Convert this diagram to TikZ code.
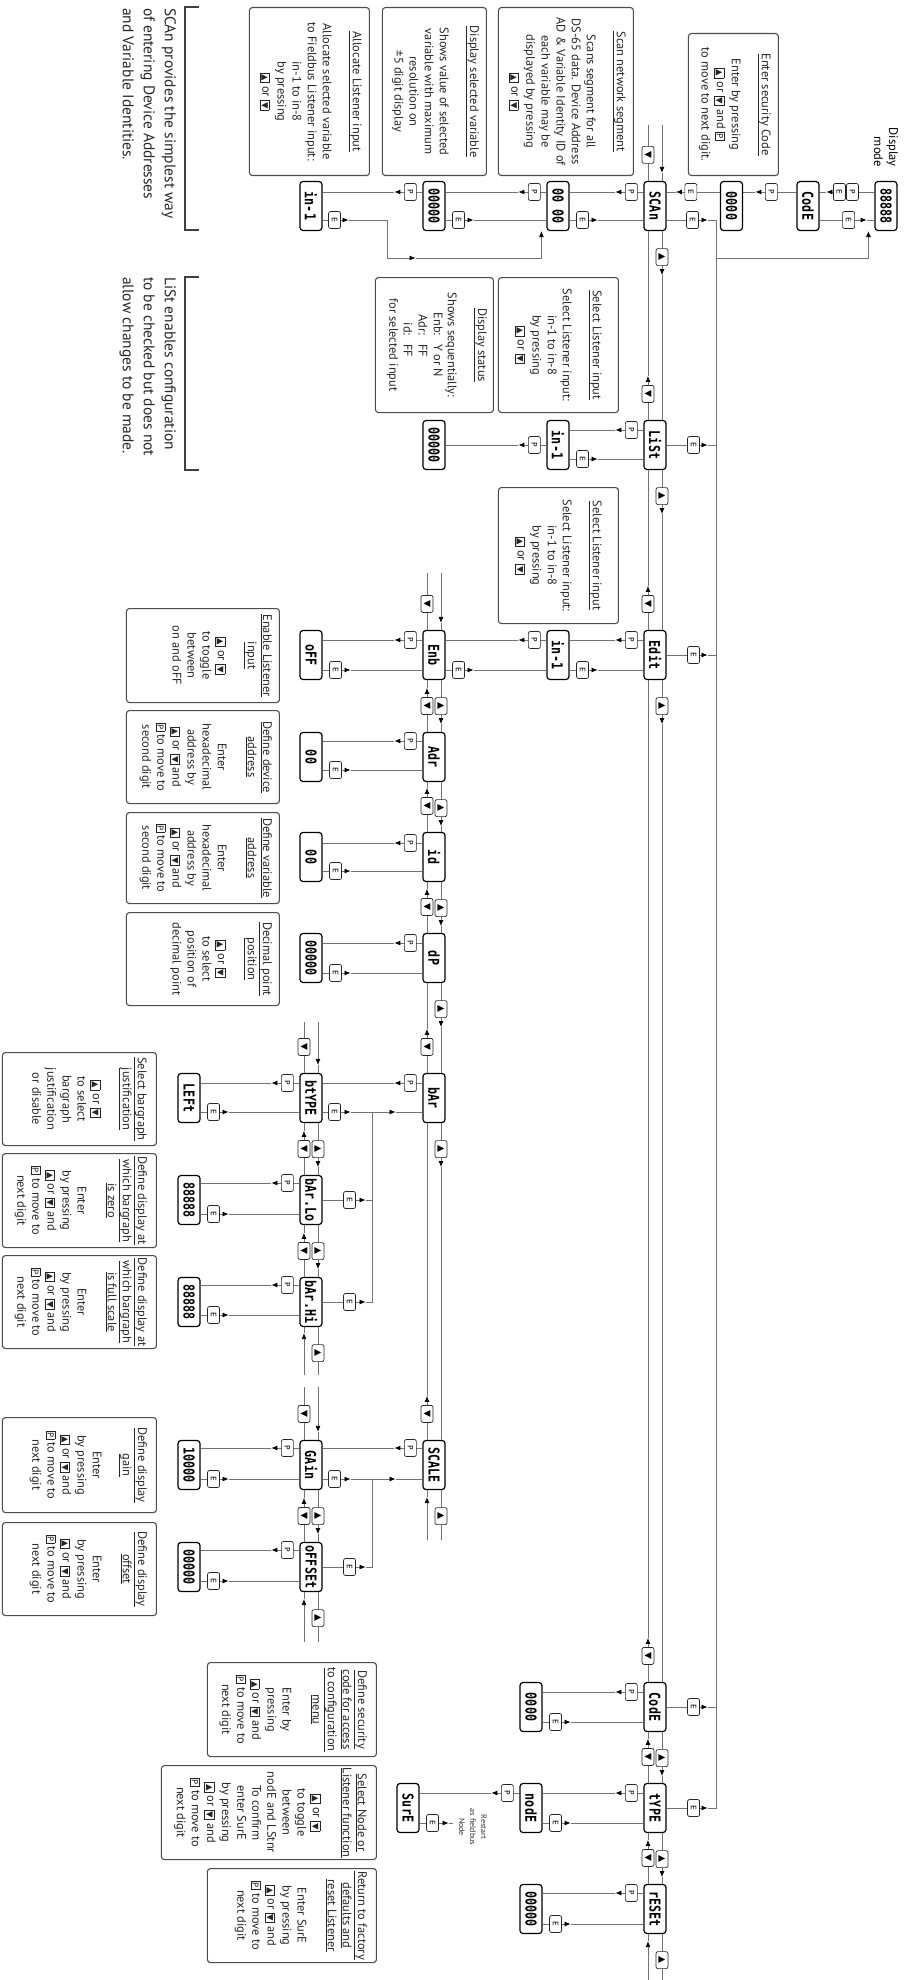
\documentclass[tikz,border=0pt]{standalone}
\usepackage{fontspec}
\setmainfont{PT Sans}
\newfontfamily\dispfont{DejaVu Sans Mono}[FakeStretch=0.78]
\newfontfamily\symfont{DejaVu Sans}
\usetikzlibrary{arrows.meta,calc}

\tikzset{
  dispbox/.style={draw, line width=1.2pt, rounded corners=3pt, fill=white,
                  minimum width=49pt, minimum height=22pt, inner sep=0pt,
                  font=\dispfont\bfseries\fontsize{15}{15}\selectfont},
  keybox/.style={draw=black!85, line width=0.7pt, rounded corners=2pt, fill=white,
                 minimum width=17pt, minimum height=12pt, inner sep=0pt,
                 font=\symfont\fontsize{7.5}{7.5}\selectfont},
  wireline/.style={draw=black!55, line width=0.8pt},
  arrowtip/.style={-{Latex[length=6pt,width=5pt,color=black]}},
  descframe/.style={draw=black!70, line width=1.1pt, rounded corners=3pt, fill=white},
  desctext/.style={align=center, inner sep=0pt, text=black!85,
                   font=\fontsize{12.4}{15.1}\selectfont},
  bracket/.style={line width=1.5pt, black!75},
  bigtext/.style={align=left, inner sep=0pt, text=black!85,
                  font=\fontsize{15.5}{21}\selectfont},
}

% keys inside the texts
\newcommand\tk[1]{{\fboxsep=1.3pt\fboxrule=0.5pt\fbox{\symfont\fontsize{8.5}{8.5}\selectfont #1}}}
\newcommand\tku{\tk{▲}}
\newcommand\tkd{\tk{▼}}
\newcommand\tkp{\tk{P}}
\newcommand\navup{{\fontsize{9}{9}\selectfont ▲}}
\newcommand\navdn{{\fontsize{9}{9}\selectfont ▼}}

% line with key and arrow: from, to, key, key distance, arrow distance
\newcommand\wire[5]{%
  \path (#1) coordinate (wa) (#2) coordinate (wb);
  \draw[wireline] ($(wa)!#5!(wb)$) -- (wb);
  \draw[wireline,arrowtip] (wa) -- ($(wa)!#5!(wb)$);
  \node[keybox] at ($(wa)!#4!(wb)$) {#3};
}
\newcommand\keyline[4]{%
  \path (#1) coordinate (wa) (#2) coordinate (wb);
  \draw[wireline] (wa) -- (wb);
  \node[keybox] at ($(wa)!#4!(wb)$) {#3};
}
\newcommand\arrline[3]{%
  \path (#1) coordinate (wa) (#2) coordinate (wb);
  \draw[wireline,arrowtip] (wa) -- ($(wa)!#3!(wb)$);
  \draw[wireline] ($(wa)!#3!(wb)$) -- (wb);
}
\newcommand\pdown[3][-14]{\wire{$(#2.south)+(#1,0)$}{$(#3.north)+(#1,0)$}{P}{12pt}{28pt}}
\newcommand\eup[3][14]{\wire{$(#2.north)+(#1,0)$}{$(#3.south)+(#1,0)$}{E}{13pt}{28pt}}
\newcommand\navpair[2]{%
  \wire{$(#1.east)+(0,-7)$}{$(#2.west)+(0,-7)$}{\navup}{26pt}{44pt}
  \wire{$(#2.west)+(0,7)$}{$(#1.east)+(0,7)$}{\navdn}{26pt}{44pt}
}
% first, last, left length, left arrow, right length, right arrow
\newcommand\navends[6]{%
  \arrline{$(#1.west)+(-#3,-7)$}{$(#1.west)+(0,-7)$}{#4pt}
  \keyline{$(#1.west)+(0,7)$}{$(#1.west)+(-#3,7)$}{\navdn}{26pt}
  \keyline{$(#2.east)+(0,-7)$}{$(#2.east)+(#5,-7)$}{\navup}{26pt}
  \arrline{$(#2.east)+(#5,7)$}{$(#2.east)+(0,7)$}{#6pt}
}
% [top pad] name, x, y, width, height, text
\newcommand\descbox[7][8]{%
  \node[descframe, minimum width=#5pt, minimum height=#6pt, anchor=north west] (#2) at (#3,#4) {};
  \node[desctext, anchor=north] (#2t) at ($(#2.north)+(0,#1)$) {#7};
}

\begin{document}
\begin{tikzpicture}
\begin{scope}[rotate=-90, transform shape, x=1pt, y=-1pt]
  \useasboundingbox (0,0) rectangle (1980,909);

  % Display mode and security code
  \node[dispbox] (disp) at (206,23) {88888};
  \node[font=\fontsize{12.5}{15}\selectfont, align=right, anchor=east, inner sep=0pt]
    (dmode) at (167,23) {Display\\mode};
  \node[dispbox] (code1) at (206,101) {CodE};
  \node[dispbox] (code1v) at (206,177.5) {0000};

  % Main menu
  \node[dispbox] (scan) at (206,254) {SCAn};
  \node[dispbox] (list) at (445,254) {LiSt};
  \node[dispbox] (edit) at (655,254) {Edit};
  \node[dispbox] (code2) at (1707,254) {CodE};
  \node[dispbox] (type) at (1808,254) {tYPE};
  \node[dispbox] (reset) at (1909,254) {rESEt};

  % Sub menus
  \node[dispbox] (scanv) at (206,351) {00 00};
  \node[dispbox] (listin) at (445,351) {in-1};
  \node[dispbox] (editin) at (655,351) {in-1};
  \node[dispbox] (scanval) at (206,475) {00000};
  \node[dispbox] (liststat) at (445,475) {00000};
  \node[dispbox] (enb) at (655,475) {Enb};
  \node[dispbox] (adr) at (757,475) {Adr};
  \node[dispbox] (idn) at (857,475) {id};
  \node[dispbox] (dp) at (958,475) {dP};
  \node[dispbox] (bar) at (1098,475) {bAr};
  \node[dispbox] (scale) at (1465,475) {SCALE};
  \node[dispbox] (scanin) at (206,598) {in-1};
  \node[dispbox] (off) at (655,598) {oFF};
  \node[dispbox] (adrv) at (757,598) {00};
  \node[dispbox] (idv) at (857,598) {00};
  \node[dispbox] (dpv) at (958,598) {00000};
  \node[dispbox] (btype) at (1098,598) {btYPE};
  \node[dispbox] (barlo) at (1200,598) {bAr.Lo};
  \node[dispbox] (barhi) at (1302,598) {bAr.Hi};
  \node[dispbox] (gain) at (1465,598) {GAin};
  \node[dispbox] (offset) at (1567,598) {oFFSEt};
  \node[dispbox] (lft) at (1098,720) {LEFt};
  \node[dispbox] (lov) at (1200,720) {88888};
  \node[dispbox] (hiv) at (1302,720) {88888};
  \node[dispbox] (gainv) at (1465,720) {10000};
  \node[dispbox] (offv) at (1567,720) {00000};
  \node[dispbox] (code2v) at (1707,378) {0000};
  \node[dispbox] (nodesel) at (1808,378) {nodE};
  \node[dispbox] (resetv) at (1909,378) {00000};
  \node[dispbox] (sure) at (1808,501) {SurE};
  \node[font=\fontsize{8}{11}\selectfont, align=center, inner sep=0pt, text=black!80]
    (restart) at (1827,436) {Restart\\as fieldbus\\Node};

  % Top links
  \wire{$(disp.south)+(-14,0)$}{$(code1.north)+(-14,0)$}{P}{22pt}{48pt}
  \node[keybox] (pekey) at ($(disp.south)+(-14,35)$) {E};
  \wire{$(code1.north)+(14,0)$}{$(disp.south)+(14,0)$}{E}{29pt}{47pt}
  \wire{$(code1.south)+(-14,0)$}{$(code1v.north)+(-14,0)$}{P}{25pt}{41pt}
  \wire{$(code1v.south)+(-14,0)$}{$(scan.north)+(-14,0)$}{E}{29pt}{44pt}

  % Return bus
  \coordinate (busL) at ($(scan.north)+(14,-50)$);
  \coordinate (busR) at ($(type.north)+(0,-50)$);
  \coordinate (busJ) at ($(busL)+(38,0)$);
  \draw[wireline] (busL) -- (busR);
  \draw[wireline,arrowtip] (busJ) |- ($(disp.south east)+(0,6)$);
  \wire{$(scan.north)+(14,0)$}{busL}{E}{26pt}{41pt}
  \wire{list.north}{$(list.north)+(0,-50)$}{E}{27pt}{41pt}
  \wire{edit.north}{$(edit.north)+(0,-50)$}{E}{27pt}{41pt}
  \wire{code2.north}{$(code2.north)+(0,-50)$}{E}{27pt}{41pt}
  \wire{type.north}{busR}{E}{27pt}{41pt}

  % Navigation
  \navpair{scan}{list}
  \navpair{list}{edit}
  \navpair{edit}{code2}
  \navpair{code2}{type}
  \navpair{type}{reset}
  \navends{scan}{reset}{56}{48}{46}{39}
  \navpair{enb}{adr}
  \navpair{adr}{idn}
  \navpair{idn}{dp}
  \navpair{dp}{bar}
  \navpair{bar}{scale}
  \navends{enb}{scale}{57}{50}{50}{43}
  \navpair{btype}{barlo}
  \navpair{barlo}{barhi}
  \navends{btype}{barhi}{51}{43}{48}{42}
  \navpair{gain}{offset}
  \navends{gain}{offset}{53}{45}{50}{43}

  % SCAn
  \pdown{scan}{scanv}
  \eup{scanv}{scan}
  \pdown{scanv}{scanval}
  \eup{scanval}{scanv}
  \pdown{scanval}{scanin}
  \coordinate (retA) at ($(scanin.north)+(14,-65)$);
  \coordinate (retB) at ($(retA)+(38,-28)$);
  \wire{$(scanin.north)+(14,0)$}{retA}{E}{12pt}{26pt}
  \draw[wireline,arrowtip] (retA) -| (retB);
  \draw[wireline,arrowtip] (retB) |- ($(scanv.south east)+(0,5)$);

  % LiSt
  \pdown[-15]{list}{listin}
  \eup{listin}{list}
  \pdown[0]{listin}{liststat}

  % Edit
  \pdown[-15]{edit}{editin}
  \eup[15]{editin}{edit}
  \pdown[-15]{editin}{enb}
  \eup[15]{enb}{editin}
  \pdown[-15]{enb}{off}
  \eup[15]{off}{enb}
  \pdown[-16]{adr}{adrv}
  \eup[13]{adrv}{adr}
  \pdown{idn}{idv}
  \eup{idv}{idn}
  \pdown[-15]{dp}{dpv}
  \eup[15]{dpv}{dp}

  % bAr
  \pdown[-15]{bar}{btype}
  \coordinate (colA) at ($(btype.north)+(14,-50)$);
  \wire{$(btype.north)+(14,0)$}{colA}{E}{12pt}{28pt}
  \arrline{colA}{$(bar.south)+(14,0)$}{23pt}
  \draw[wireline] (colA) -- ($(barhi.north)+(0,-50)$);
  \wire{barlo.north}{$(barlo.north)+(0,-50)$}{E}{27pt}{43pt}
  \wire{barhi.north}{$(barhi.north)+(0,-50)$}{E}{27pt}{43pt}
  \pdown[-15]{btype}{lft}
  \eup{lft}{btype}
  \pdown[-17]{barlo}{lov}
  \eup{lov}{barlo}
  \pdown[-17]{barhi}{hiv}
  \eup[13]{hiv}{barhi}

  % SCALE
  \pdown[-17]{scale}{gain}
  \coordinate (colB) at ($(gain.north)+(14,-50)$);
  \wire{$(gain.north)+(14,0)$}{colB}{E}{12pt}{28pt}
  \arrline{colB}{$(scale.south)+(14,0)$}{23pt}
  \draw[wireline] (colB) -- ($(offset.north)+(0,-50)$);
  \wire{offset.north}{$(offset.north)+(0,-50)$}{E}{27pt}{43pt}
  \pdown[-17]{gain}{gainv}
  \eup{gainv}{gain}
  \pdown[-17]{offset}{offv}
  \eup{offv}{offset}

  % CodE, tYPE, rESEt
  \pdown[-15]{code2}{code2v}
  \eup[15]{code2v}{code2}
  \pdown[-15]{type}{nodesel}
  \eup[15]{nodesel}{type}
  \pdown[-15]{nodesel}{sure}
  \wire{$(sure.north)+(15,0)$}{$(sure.north)+(15,-33)$}{E}{13pt}{29pt}
  \pdown[-16]{reset}{resetv}
  \eup[15]{resetv}{reset}

  % Description boxes
  \descbox{secbox}{33}{130}{142}{90}{\underline{Enter security Code}\\[15pt]Enter by pressing\\\tku{} or \tkd{} and \tkp\\to move to next digit.}
  \descbox{scanbox}{7}{275}{168}{135}{\underline{Scan network segment}\\[15pt]Scans segment for all\\DS-65 data. Device Address\\AD \& Variable Identity ID of\\each variable may be\\displayed by pressing\\\tku{} or \tkd}
  \descbox{selvar}{7}{422}{168}{104}{\underline{Display selected variable}\\[15pt]Shows value of selected\\variable with maximum\\resolution on\\±5 digit display}
  \descbox{allocbox}{7}{539}{168}{120}{\underline{Allocate Listener input}\\[15pt]Allocate selected variable\\to Fieldbus Listener input:\\in-1 to in-8\\by pressing\\\tku{} or \tkd}
  \descbox[17]{listsel}{277}{290}{135}{120}{\underline{Select Listener input}\\[15pt]Select Listener input:\\in-1 to in-8\\by pressing\\\tku{} or \tkd}
  \descbox[7]{statbox}{277}{415}{135}{118}{\underline{Display status}\\[15pt]Shows sequentially:\\\begin{tabular}{@{}r@{\hspace{9pt}}l@{}}Enb: & Y or N\\Adr: & FF\\id: & FF\end{tabular}\\for selected input}
  \descbox[17]{editsel}{487}{290}{136}{120}{\underline{Select Listener input}\\[15pt]Select Listener input:\\in-1 to in-8\\by pressing\\\tku{} or \tkd}
  \descbox{enbbox}{608}{629}{94}{153}{\underline{Enable Listener}\\\underline{input}\\[15pt]\tku{} or \tkd\\to toggle\\between\\on and oFF}
  \descbox{adrbox}{710}{629}{93}{153}{\underline{Define device}\\\underline{address}\\[15pt]Enter\\hexadecimal\\address by\\\tku{} or \tkd{} and\\\tkp{} to move to\\second digit}
  \descbox{idbox}{812}{629}{91}{153}{\underline{Define variable}\\\underline{address}\\[15pt]Enter\\hexadecimal\\address by\\\tku{} or \tkd{} and\\\tkp{} to move to\\second digit}
  \descbox{dpbox}{912}{629}{93}{153}{\underline{Decimal point}\\\underline{position}\\[15pt]\tku{} or \tkd\\to select\\position of\\decimal point}
  \descbox[10]{btbox}{1052}{752}{93}{154}{\underline{Select bargraph}\\\underline{justification}\\[15pt]\tku{} or \tkd\\to select\\bargraph\\justification\\or disable}
  \descbox[10]{lobox}{1153}{752}{94}{154}{\underline{Define display at}\\\underline{which bargraph}\\\underline{is zero}\\[15pt]Enter\\by pressing\\\tku{} or \tkd{} and\\\tkp{} to move to\\next digit}
  \descbox[10]{hibox}{1255}{752}{93}{154}{\underline{Define display at}\\\underline{which bargraph}\\\underline{is full scale}\\[15pt]Enter\\by pressing\\\tku{} or \tkd{} and\\\tkp{} to move to\\next digit}
  \descbox[10]{gainbox}{1417}{752}{95}{154}{\underline{Define display}\\\underline{gain}\\[15pt]Enter\\by pressing\\\tku{} or \tkd{} and\\\tkp{} to move to\\next digit}
  \descbox[10]{offbox}{1522}{752}{93}{154}{\underline{Define display}\\\underline{offset}\\[15pt]Enter\\by pressing\\\tku{} or \tkd{} and\\\tkp{} to move to\\next digit}
  \descbox[10]{codebox}{1662}{532}{94}{169}{\underline{Define security}\\\underline{code for access}\\\underline{to configuration}\\\underline{menu}\\[15pt]Enter by\\pressing\\\tku{} or \tkd{} and\\\tkp{} to move to\\next digit}
  \descbox[10]{typebox}{1765}{532}{94}{215}{\underline{Select Node or}\\\underline{Listener function}\\[15pt]\tku{} or \tkd\\to toggle\\between\\nodE and LStnr\\To confirm\\enter SurE\\by pressing\\\tku{} or \tkd{} and\\\tkp{} to move to\\next digit}
  \descbox[10]{resetbox}{1868}{532}{94}{169}{\underline{Return to factory}\\\underline{defaults and}\\\underline{reset Listener}\\[15pt]Enter SurE\\by pressing\\\tku{} or \tkd{} and\\\tkp{} to move to\\next digit}

  % Notes
  \draw[bracket] (7,710) -- (7,724) -- (230,724) -- (230,710);
  \node[bigtext, anchor=north west] (scannote) at (8,733)
    {SCAn provides the simplest way\\of entering Device Addresses\\and Variable Identities.};
  \draw[bracket] (277,710) -- (277,724) -- (470,724) -- (470,710);
  \node[bigtext, anchor=north west] (listnote) at (277,733)
    {LiSt enables configuration\\to be checked but does not\\allow changes to be made.};
\end{scope}
\end{tikzpicture}
\end{document}
